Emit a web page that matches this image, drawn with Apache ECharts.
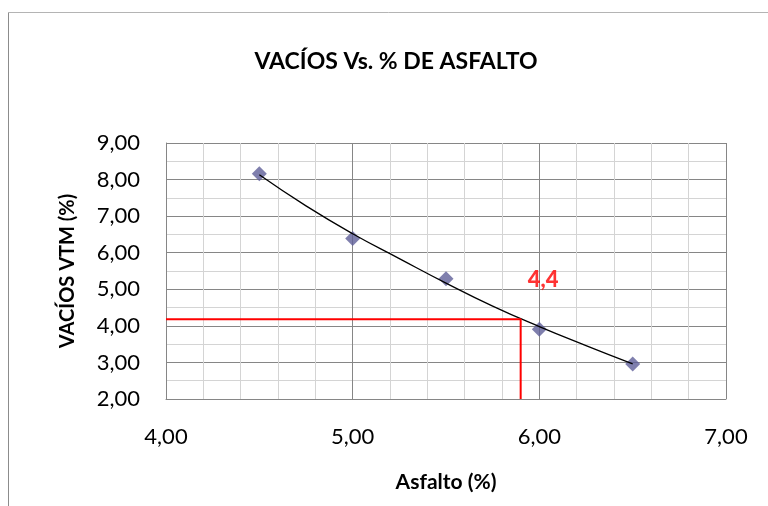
<!DOCTYPE html>
<html>
<head>
<meta charset="utf-8">
<script src="https://cdn.jsdelivr.net/npm/echarts@6/dist/echarts.min.js"></script>
<style>html,body{margin:0;padding:0;background:#fff}#c{width:768px;height:506px}</style>
</head>
<body>
<div id="c"></div>
<script>
// Data
const asphalt = [4.5, 5.0, 5.5, 6.0, 6.5];
const voids = [8.16, 6.39, 5.29, 3.91, 2.96];
// Trendline
const trendX = [4.5, 4.75, 5.0, 5.25, 5.5, 5.75, 6.0, 6.25, 6.5];
const trendY = [8.13, 7.28, 6.52, 5.84, 5.17, 4.54, 3.98, 3.46, 2.96];
// Red reference lines (design asphalt content / voids)
const refX = [4.0, 5.9, 5.9];
const refY = [4.18, 4.18, 2.0];
// Annotation
const noteText = ['4,4'];
const noteX = [6.02];
const noteY = [5.27];

const xTicks = [4, 5, 6, 7];
const yTicks = [2, 3, 4, 5, 6, 7, 8, 9];

const FONT = 'Lato';
const fmt = v => v.toFixed(2).replace('.', ',');

const chart = echarts.init(document.getElementById('c'));
chart.setOption({
  animation: false,
  backgroundColor: '#fff',
  title: {
    text: 'VACÍOS Vs. % DE ASFALTO',
    left: 391,
    textAlign: 'center',
    top: 45,
    textStyle: { fontFamily: FONT, fontWeight: 'bold', fontSize: 23, color: '#000' }
  },
  graphic: [
    { type: 'line', shape: { x1: 8.5, y1: 12.5, x2: 768, y2: 12.5 }, style: { stroke: '#b4b4b4', lineWidth: 1 } },
    { type: 'line', shape: { x1: 8.5, y1: 12.5, x2: 8.5, y2: 506 }, style: { stroke: '#8c8c8c', lineWidth: 1 } }
  ],
  grid: { left: 166, right: 42, top: 143, bottom: 107 },
  xAxis: {
    type: 'value',
    min: xTicks[0], max: xTicks[xTicks.length - 1], interval: 1,
    name: 'Asfalto (%)',
    nameLocation: 'middle',
    nameGap: 73,
    nameTextStyle: { fontFamily: FONT, fontWeight: 'bold', fontSize: 21, color: '#000' },
    axisLine: { show: true, lineStyle: { color: '#868686', width: 1 } },
    axisTick: { show: false },
    minorTick: { show: false, splitNumber: 5 },
    axisLabel: { formatter: fmt, fontFamily: FONT, fontSize: 22, color: '#000', margin: 27 },
    splitLine: { show: true, lineStyle: { color: '#868686', width: 1 } },
    minorSplitLine: { show: true, lineStyle: { color: '#d4d4d4', width: 1 } }
  },
  yAxis: {
    type: 'value',
    min: yTicks[0], max: yTicks[yTicks.length - 1], interval: 1,
    name: 'VACÍOS VTM (%)',
    nameLocation: 'middle',
    nameGap: 88,
    nameRotate: 90,
    nameTextStyle: { fontFamily: FONT, fontWeight: 'bold', fontSize: 20, color: '#000' },
    axisLine: { show: true, lineStyle: { color: '#868686', width: 1 } },
    axisTick: { show: false },
    minorTick: { show: false, splitNumber: 2 },
    axisLabel: { formatter: fmt, fontFamily: FONT, fontSize: 22, color: '#000', margin: 26 },
    splitLine: { show: true, lineStyle: { color: '#868686', width: 1 } },
    minorSplitLine: { show: true, lineStyle: { color: '#d4d4d4', width: 1 } }
  },
  series: [
    {
      type: 'scatter',
      data: asphalt.map((x, i) => [x, voids[i]]),
      symbol: 'diamond',
      symbolSize: 15,
      itemStyle: { color: '#5f5f99' },
      z: 3
    },
    {
      type: 'line',
      data: trendX.map((x, i) => [x, trendY[i]]),
      smooth: true,
      showSymbol: false,
      symbol: 'none',
      lineStyle: { color: '#000', width: 1.3 },
      z: 4
    },
    {
      type: 'line',
      data: refX.map((x, i) => [x, refY[i]]),
      showSymbol: false,
      symbol: 'none',
      lineStyle: { color: '#ff0000', width: 2 },
      z: 5
    },
    {
      type: 'scatter',
      data: noteX.map((x, i) => ({ value: [x, noteY[i]], name: noteText[i] })),
      symbolSize: 1,
      itemStyle: { color: 'rgba(0,0,0,0)' },
      label: {
        show: true,
        position: 'inside',
        formatter: p => '{a|' + p.name + '}',
        rich: { a: { fontFamily: FONT, fontWeight: 900, fontSize: 22, color: '#ff0000' } }
      },
      z: 6
    }
  ]
});
</script>
</body>
</html>
